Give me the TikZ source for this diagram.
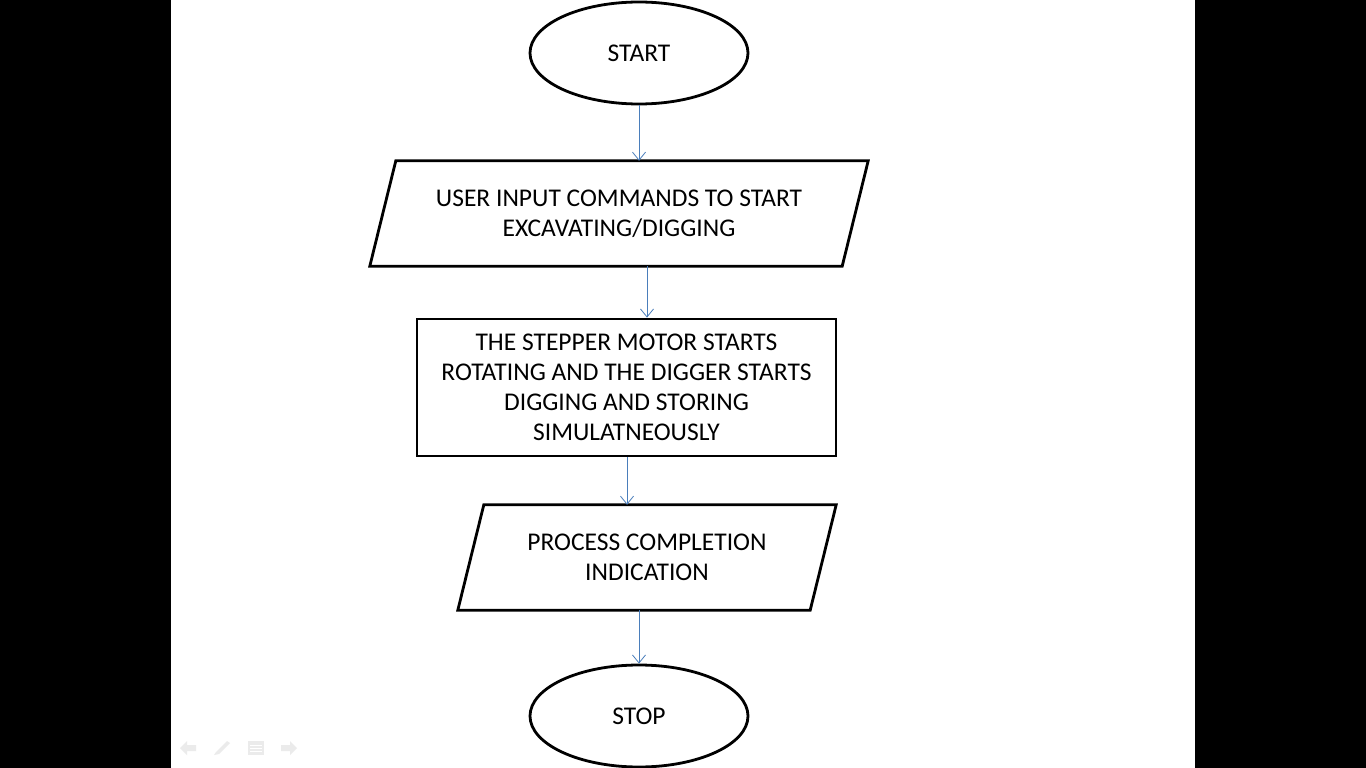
\documentclass[tikz,border=0pt]{standalone}
\usepackage{fontspec}
\setmainfont{Carlito}
\usetikzlibrary{shapes.geometric,arrows.meta}
\definecolor{arrblue}{HTML}{4A7EBB}
\definecolor{icon}{HTML}{EBEBEB}
\tikzset{
  every node/.style={font=\fontsize{25.5}{30}\selectfont, align=center, inner sep=0pt},
  term/.style={ellipse, draw=black, line width=2.8pt, fill=white, minimum width=218pt, minimum height=102pt},
  iobox/.style={rectangle, minimum height=105pt},
  iopath/.style={draw=black, line width=2.8pt, line join=miter},
  proc/.style={rectangle, draw=black, line width=2.8pt, fill=white, minimum width=419pt, minimum height=137pt},
  arr/.style={draw=arrblue, line width=0.9pt, -{Straight Barb[length=8pt,width=13pt,line width=0.8pt]}},
  ic/.style={fill=icon, draw=none}
}
\begin{document}
\begin{tikzpicture}[x=1pt,y=-1pt]
\useasboundingbox (0,0) rectangle (1366,768);
\fill[black] (0,0) rectangle (1366,768);
\fill[white] (171,0) rectangle (1195,768);

\node[term] (start) at (639,53) {START};
\node[iobox, minimum width=472pt] (in) at (619,213.5) {USER INPUT COMMANDS TO START\\EXCAVATING/DIGGING};
\draw[iopath] ([xshift=13pt]in.north west) -- ([xshift=13pt]in.north east) -- ([xshift=-13pt]in.south east) -- ([xshift=-13pt]in.south west) -- cycle;
\node[proc] (run) at (626.5,387.5) {THE STEPPER MOTOR STARTS\\ROTATING AND THE DIGGER STARTS\\DIGGING AND STORING\\SIMULATNEOUSLY};
\node[iobox, minimum width=352pt] (done) at (647,557.5) {PROCESS COMPLETION\\INDICATION};
\draw[iopath] ([xshift=13pt]done.north west) -- ([xshift=13pt]done.north east) -- ([xshift=-13pt]done.south east) -- ([xshift=-13pt]done.south west) -- cycle;
\node[term] (stop) at (639,716) {STOP};

\draw[arr] (start.south) -- (start.south |- in.north);
\draw[arr] ([xshift=28pt]in.south) -- ([xshift=28pt]in.south |- run.north);
\draw[arr] ([xshift=0.5pt]run.south) -- ([xshift=0.5pt]run.south |- done.north);
\draw[arr] ([xshift=-8pt]done.south) -- ([xshift=-8pt]done.south |- stop.north);

% slide navigation icons
\fill[ic] (180,748) -- (187,741) -- (187,745) -- (196,745) -- (196,751) -- (187,751) -- (187,755) -- cycle;
\fill[ic] (214,755) -- (216,752) -- (227,741) -- (230,743) -- (219,754) -- cycle;
\fill[ic] (248,741) rectangle (264,755);
\draw[white, line width=1pt] (250,745) -- (262,745) (250,748) -- (262,748) (250,751) -- (262,751);
\fill[ic] (297,748) -- (290,741) -- (290,745) -- (281,745) -- (281,751) -- (290,751) -- (290,755) -- cycle;
\end{tikzpicture}
\end{document}
